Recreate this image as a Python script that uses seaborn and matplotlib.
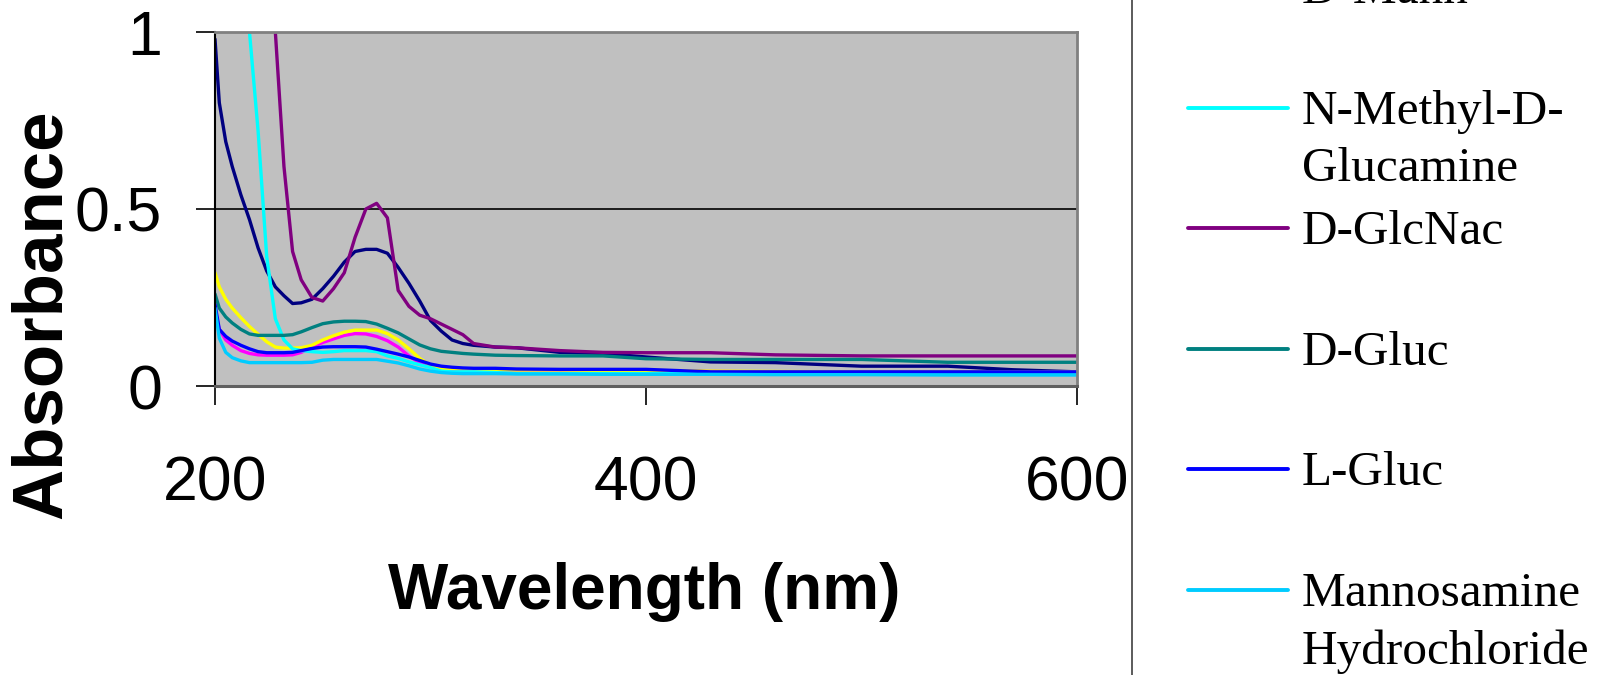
import numpy as np
import pandas as pd
import seaborn as sns
import matplotlib.pyplot as plt
from matplotlib.lines import Line2D

# ------------------------------------------------------------------
# Data (absorbance)
# ------------------------------------------------------------------
wavelength = [200, 202, 205, 208, 212, 216, 220, 224, 228, 232, 236, 240, 245, 250,
              255, 260, 265, 270, 275, 280, 285, 290, 295, 300, 305, 310, 315, 320,
              330, 340, 360, 380, 400, 430, 460, 500, 540, 570, 600]

nan = np.nan
d_gal = [0.98, 0.80, 0.69, 0.62, 0.54, 0.47, 0.39, 0.325, 0.28, 0.255, 0.233, 0.235, 0.245, 0.275,
         0.31, 0.35, 0.38, 0.386, 0.386, 0.375, 0.335, 0.29, 0.24, 0.185, 0.155, 0.13, 0.12, 0.115,
         0.11, 0.108, 0.095, 0.092, 0.082, 0.068, 0.066, 0.056, 0.056, 0.046, 0.04]
l_mann = [0.21, 0.16, 0.13, 0.115, 0.10, 0.092, 0.088, 0.087, 0.087, 0.087, 0.088, 0.095, 0.11, 0.123,
          0.133, 0.143, 0.148, 0.147, 0.14, 0.128, 0.11, 0.085, 0.065, 0.055, 0.048, 0.046, 0.045, 0.045,
          0.045, 0.045, 0.044, 0.043, 0.042, 0.041, 0.04, 0.04, 0.04, 0.04, 0.04]
d_mann = [0.32, 0.28, 0.245, 0.22, 0.193, 0.168, 0.146, 0.125, 0.11, 0.107, 0.107, 0.108, 0.115, 0.13,
          0.142, 0.152, 0.158, 0.158, 0.158, 0.148, 0.13, 0.105, 0.078, 0.058, 0.05, 0.049, 0.048, 0.048,
          0.046, 0.045, 0.045, 0.044, 0.044, 0.042, 0.041, 0.04, 0.04, 0.04, 0.04]
n_methyl = [nan, nan, nan, nan, nan, 1.0, 0.72, 0.365, 0.19, 0.13, 0.105, 0.10, 0.097, 0.095,
            0.097, 0.10, 0.10, 0.10, 0.097, 0.085, 0.078, 0.068, 0.06, 0.052, 0.042, 0.04, 0.04, 0.04,
            0.038, 0.035, 0.035, 0.035, 0.035, 0.035, 0.034, 0.034, 0.033, 0.033, 0.033]
d_glcnac = [nan, nan, nan, nan, nan, nan, nan, nan, 1.0, 0.62, 0.38, 0.30, 0.25, 0.24,
            0.275, 0.32, 0.42, 0.50, 0.516, 0.475, 0.27, 0.225, 0.20, 0.19, 0.175, 0.16, 0.145, 0.12,
            0.11, 0.108, 0.10, 0.095, 0.094, 0.094, 0.088, 0.085, 0.085, 0.085, 0.085]
d_gluc = [0.26, 0.22, 0.195, 0.178, 0.16, 0.147, 0.143, 0.143, 0.143, 0.143, 0.145, 0.153, 0.165, 0.176,
          0.181, 0.183, 0.183, 0.182, 0.175, 0.163, 0.15, 0.133, 0.116, 0.105, 0.098, 0.095, 0.092, 0.09,
          0.087, 0.086, 0.085, 0.085, 0.077, 0.075, 0.075, 0.075, 0.067, 0.067, 0.067]
l_gluc = [0.23, 0.16, 0.14, 0.127, 0.115, 0.105, 0.097, 0.094, 0.094, 0.094, 0.095, 0.10, 0.106, 0.11,
          0.111, 0.111, 0.111, 0.11, 0.104, 0.097, 0.09, 0.082, 0.072, 0.062, 0.056, 0.053, 0.051, 0.05,
          0.05, 0.048, 0.047, 0.047, 0.047, 0.04, 0.04, 0.04, 0.04, 0.04, 0.04]
mannosamine = [0.22, 0.135, 0.095, 0.08, 0.071, 0.066, 0.066, 0.066, 0.066, 0.066, 0.066, 0.066, 0.067, 0.073,
               0.075, 0.075, 0.075, 0.075, 0.075, 0.07, 0.065, 0.057, 0.048, 0.042, 0.038, 0.036, 0.035, 0.035,
               0.035, 0.034, 0.034, 0.033, 0.033, 0.033, 0.032, 0.032, 0.031, 0.031, 0.031]

labels = ['D-Gal', 'L-Mann', 'D-Mann', 'N-Methyl-D-\nGlucamine', 'D-GlcNac',
          'D-Gluc', 'L-Gluc', 'Mannosamine\nHydrochloride']
series = [d_gal, l_mann, d_mann, n_methyl, d_glcnac, d_gluc, l_gluc, mannosamine]
colors = ['#000080', '#FF00FF', '#FFFF00', '#00FFFF', '#800080', '#008080', '#0000FF', '#00CCFF']

df = pd.concat([pd.DataFrame({'wavelength': wavelength, 'absorbance': vals, 'sample': lab})
                for lab, vals in zip(labels, series)], ignore_index=True)
df = df.dropna()

# ------------------------------------------------------------------
# Plot
# ------------------------------------------------------------------
sns.set_style('white')
plt.rcParams['font.family'] = ['Liberation Sans', 'DejaVu Sans']
for key in ['text.color', 'axes.labelcolor', 'xtick.color', 'ytick.color']:
    plt.rcParams[key] = 'black'

W, H = 1602, 675
fig = plt.figure(figsize=(W / 100, H / 100), dpi=100)
ax = fig.add_axes([215 / W, 1 - 386 / H, (1077 - 215) / W, (386 - 32) / H])
ax.set_facecolor('#C0C0C0')

sns.lineplot(data=df, x='wavelength', y='absorbance', hue='sample', hue_order=labels,
             palette=dict(zip(labels, colors)), estimator=None, sort=False,
             linewidth=2.4, legend=False, ax=ax)

ax.set_xlim(200, 600)
ax.set_ylim(0, 1)
ax.set_xticks([200, 400, 600])
ax.set_yticks([0, 0.5, 1])
ax.set_yticklabels(['0', '0.5', '1'])
ax.tick_params(axis='both', labelsize=45, direction='out', length=14, width=1.2, color='black')
ax.tick_params(axis='x', pad=35, bottom=True)
ax.tick_params(axis='y', pad=24, left=True)
ax.yaxis.grid(True, color='black', linewidth=1.2)
ax.xaxis.grid(False)

for side in ['top', 'right']:
    ax.spines[side].set_color('#808080')
    ax.spines[side].set_linewidth(2)
ax.spines['bottom'].set_color('#606060')
ax.spines['bottom'].set_linewidth(2.2)
ax.spines['left'].set_color('black')
ax.spines['left'].set_linewidth(1.5)

ax.set_xlabel('Wavelength (nm)', fontsize=46, fontweight='bold')
ax.set_ylabel('Absorbance', fontsize=51, fontweight='bold')
ax.xaxis.set_label_coords(0.498, -0.497)
ax.yaxis.set_label_coords(-0.162, 0.203)

# legend panel (partly outside the figure, as in the original)
fig.add_artist(Line2D([1132 / W] * 2, [0, 1], transform=fig.transFigure,
                      color='#404040', linewidth=1.2))
step = 120.6
for i, (lab, col) in enumerate(zip(labels, colors)):
    y_px = 590 - step * (len(labels) - 1 - i)
    fig.add_artist(Line2D([1188 / W, 1288 / W], [1 - y_px / H] * 2,
                          transform=fig.transFigure, color=col, linewidth=2.8))
    fig.text(1302 / W, 1 - (y_px - 18) / H, lab, fontsize=35.5, va='top', ha='left',
             family=['Liberation Serif', 'DejaVu Serif'], linespacing=1.38)

plt.savefig('out.png', dpi=100)
